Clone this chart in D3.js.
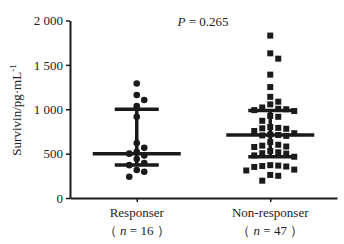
<!DOCTYPE html>
<html lang="en">
<head>
    <meta charset="UTF-8">
    <title>Survivin scatter</title>
    <script src="https://d3js.org/d3.v7.min.js"></script>
    <style>
        body { margin: 0; background: #fff; }
        text { font-family: "Liberation Serif", "DejaVu Serif", serif; fill: #222; }
    </style>
</head>
<body>
    <div id="chart"></div>
    <script>
        // Data
        const groups = ["Responser", "Non-responser"];
        const groupN = [16, 47];
        const responser = [1290, 1160, 1105, 1035, 915, 620, 565, 520, 500, 480, 440, 395, 370, 315, 295, 240];
        const nonResponser = [1830, 1630, 1570, 1390, 1250, 1140, 1085, 1055,
            1020, 1005, 1000, 990, 980, 925, 915, 870,
            800, 790, 785, 780, 755, 730, 715, 710, 705, 700,
            630, 600, 590, 580, 575, 530, 515, 505, 500, 480, 465,
            370, 365, 360, 355, 350, 320, 310, 260, 250, 195];
        const medians = [500, 710];
        const lowerQ = [372, 466];
        const upperQ = [1000, 985];
        const yTicks = [0, 500, 1000, 1500, 2000];
        const pLabel = "0.265";

        const width = 344, height = 244;
        const margin = { top: 20.5, right: 7, bottom: 46, left: 70 };

        const svg = d3.select("#chart").append("svg")
            .attr("width", width)
            .attr("height", height);

        const x = d3.scalePoint()
            .domain(groups)
            .range([margin.left, width - margin.right])
            .padding(0.5);

        const y = d3.scaleLinear()
            .domain([0, 2000])
            .range([height - margin.bottom, margin.top]);

        const fmt = d3.formatLocale({ decimal: ".", thousands: " ", grouping: [3], currency: ["", ""] }).format(",");

        // points, spread sideways so they don't overlap
        function dodge(values, size, step) {
            const placed = [];
            return values.slice().sort((a, b) => b - a).map(v => {
                const py = y(v);
                let dx = 0;
                for (let k = 0; k < 40; k++) {
                    const c = k === 0 ? 0 : (k % 2 ? 1 : -1) * Math.ceil(k / 2) * step;
                    if (placed.every(p => Math.abs(p.dx - c) >= size || Math.abs(p.y - py) >= size)) { dx = c; break; }
                }
                placed.push({ dx, y: py });
                return { v, dx };
            });
        }

        const g = svg.append("g");

        g.selectAll("circle")
            .data(dodge(responser, 7, 7.5))
            .join("circle")
            .attr("cx", d => x(groups[0]) + d.dx)
            .attr("cy", d => y(d.v))
            .attr("r", 3.3)
            .attr("fill", "#1a1a1a");

        g.selectAll("rect.pt")
            .data(dodge(nonResponser, 7, 8))
            .join("rect")
            .attr("class", "pt")
            .attr("x", d => x(groups[1]) + d.dx - 3)
            .attr("y", d => y(d.v) - 3)
            .attr("width", 6)
            .attr("height", 6)
            .attr("fill", "#1a1a1a");

        // median and interquartile bars
        groups.forEach((grp, i) => {
            const cx = x(grp);
            g.append("line")
                .attr("x1", cx).attr("x2", cx)
                .attr("y1", y(lowerQ[i])).attr("y2", y(upperQ[i]))
                .attr("stroke", "#1a1a1a").attr("stroke-width", 3.5);
            [lowerQ[i], upperQ[i]].forEach(v => {
                g.append("line")
                    .attr("x1", cx - 22).attr("x2", cx + 22)
                    .attr("y1", y(v)).attr("y2", y(v))
                    .attr("stroke", "#1a1a1a").attr("stroke-width", 3.5);
            });
            g.append("line")
                .attr("x1", cx - 44).attr("x2", cx + 44)
                .attr("y1", y(medians[i])).attr("y2", y(medians[i]))
                .attr("stroke", "#1a1a1a").attr("stroke-width", 3.5);
        });

        // axes
        const yAxis = svg.append("g")
            .attr("transform", `translate(${margin.left},0)`)
            .call(d3.axisLeft(y).tickValues(yTicks).tickFormat(fmt).tickSize(4).tickSizeOuter(0).tickPadding(3));

        const xAxis = svg.append("g")
            .attr("transform", `translate(0,${height - margin.bottom})`)
            .call(d3.axisBottom(x).tickSize(4).tickSizeOuter(0).tickFormat(""));

        [yAxis, xAxis].forEach(a => {
            a.select(".domain").attr("stroke", "#1a1a1a").attr("stroke-width", 2);
            a.selectAll(".tick line").attr("stroke", "#1a1a1a").attr("stroke-width", 1.5);
        });
        yAxis.selectAll(".tick text")
            .attr("font-size", 13)
            .attr("font-family", "Liberation Serif, serif")
            .attr("fill", "#222");

        // category labels
        groups.forEach((grp, i) => {
            svg.append("text")
                .attr("x", x(grp)).attr("y", 217)
                .attr("text-anchor", "middle")
                .attr("font-size", 13)
                .text(grp);
            const t = svg.append("text")
                .attr("x", x(grp)).attr("y", 235)
                .attr("text-anchor", "middle")
                .attr("font-size", 13);
            t.append("tspan").text("（ ");
            t.append("tspan").attr("font-style", "italic").text("n");
            t.append("tspan").text(` = ${groupN[i]} ）`);
        });

        // y label
        const yl = svg.append("text")
            .attr("transform", "translate(21,110) rotate(-90)")
            .attr("text-anchor", "middle")
            .attr("font-size", 13);
        yl.append("tspan").text("Survivin/pg·mL");
        yl.append("tspan").attr("dy", -5).attr("font-size", 9).text("-1");

        // p value
        const pt = svg.append("text")
            .attr("x", 203).attr("y", 26)
            .attr("text-anchor", "middle")
            .attr("font-size", 13);
        pt.append("tspan").attr("font-style", "italic").text("P");
        pt.append("tspan").text(" = " + pLabel);
    </script>
</body>
</html>
